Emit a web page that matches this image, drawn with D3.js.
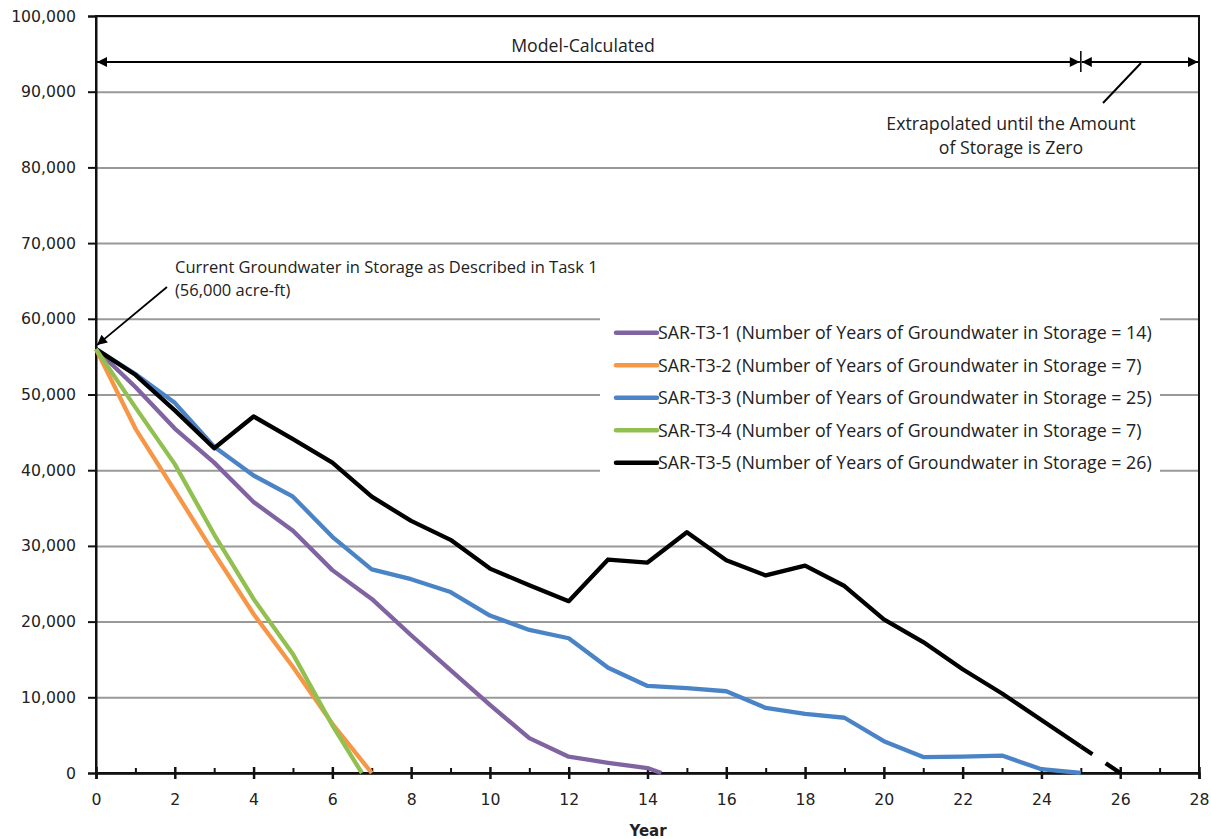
<!DOCTYPE html>
<html>
<head>
<meta charset="utf-8">
<script src="https://cdn.jsdelivr.net/npm/d3@7"></script>
<style>
  html, body { margin: 0; padding: 0; background: #fff; }
  svg { display: block; }
  .tick text { font-family: "DejaVu Sans", sans-serif; font-size: 15.7px; fill: #222; }
  .note { font-family: "Open Sans", Lato, sans-serif; font-size: 16.5px; fill: #222; }
  .note-lg { font-family: "Open Sans", Lato, sans-serif; font-size: 17.7px; fill: #222; }
  .legend-label { font-family: "Open Sans", Lato, sans-serif; font-size: 17.8px; fill: #222; }
</style>
</head>
<body>
<svg id="chart" width="1211" height="839"></svg>
<script>
// Groundwater in storage (acre-ft) by year for each scenario
const yearsT31 = [0,1,2,3,4,5,6,7,8,9,10,11,12,13,14,14.35];
const valuesT31 = [56000,51000,45500,41000,35800,32000,26800,23000,18200,13600,9000,4600,2150,1350,650,0];

const yearsT32 = [0,1,2,3,4,5,6,7];
const valuesT32 = [56000,45500,37300,29000,21000,14000,6500,0];

const yearsT33 = [0,1,2,3,4,5,6,7,8,9,10,11,12,13,14,15,16,17,18,19,20,21,22,23,24,25];
const valuesT33 = [56000,52700,48900,43100,39300,36500,31200,26900,25600,23900,20800,18900,17800,13900,11500,11200,10800,8600,7800,7300,4200,2100,2150,2300,500,0];

const yearsT34 = [0,1,2,3,4,5,6,6.75];
const valuesT34 = [56000,48300,40800,31500,23000,15700,6300,0];

const yearsT35 = [0,1,2,3,4,5,6,7,8,9,10,11,12,13,14,15,16,17,18,19,20,21,22,23,24,25];
const valuesT35 = [56000,52600,47900,42900,47100,44100,41000,36500,33300,30800,27000,24800,22700,28200,27800,31800,28100,26100,27400,24700,20300,17300,13700,10500,7000,3500];

// Extrapolation of SAR-T3-5 until storage reaches zero
const extrapYears = [25, 26];
const extrapValues = [3500, 0];

const seriesNames = [
  "SAR-T3-1 (Number of Years of Groundwater in Storage = 14)",
  "SAR-T3-2 (Number of Years of Groundwater in Storage = 7)",
  "SAR-T3-3 (Number of Years of Groundwater in Storage = 25)",
  "SAR-T3-4 (Number of Years of Groundwater in Storage = 7)",
  "SAR-T3-5 (Number of Years of Groundwater in Storage = 26)"
];
const seriesColors = ["#8064A2", "#F79646", "#4A84C6", "#92C050", "#000000"];

const yTicks = [0,10000,20000,30000,40000,50000,60000,70000,80000,90000,100000];
const xTicks = [0,2,4,6,8,10,12,14,16,18,20,22,24,26,28];
const xMinorTicks = [1,3,5,7,9,11,13,15,17,19,21,23,25,27];

const svg = d3.select("#chart");
const margin = { left: 96, top: 16, right: 12, bottom: 66 };
const W = 1211, H = 839;
const x = d3.scaleLinear().domain([0, 28]).range([margin.left, W - margin.right]);
const y = d3.scaleLinear().domain([0, 100000]).range([H - margin.bottom, margin.top]);

// horizontal gridlines
svg.append("g")
  .attr("transform", `translate(${margin.left},0)`)
  .call(d3.axisLeft(y).tickValues(yTicks).tickSize(-(x(28) - x(0))).tickFormat(""))
  .call(g => g.select(".domain").remove())
  .call(g => g.selectAll("line").attr("stroke", "#999").attr("stroke-width", 2));

// legend box (covers gridlines behind it)
const legX = 600, legY = 313;
svg.append("rect").attr("x", legX).attr("y", legY).attr("width", 560).attr("height", 168).attr("fill", "#fff");

// plot frame
svg.append("rect")
  .attr("x", x(0)).attr("y", y(100000))
  .attr("width", x(28) - x(0)).attr("height", y(0) - y(100000))
  .attr("fill", "none").attr("stroke", "#111").attr("stroke-width", 2);

// y axis
svg.append("g")
  .attr("transform", `translate(${margin.left},0)`)
  .call(d3.axisLeft(y).tickValues(yTicks).tickSize(8).tickPadding(12).tickFormat(d3.format(",")))
  .call(g => g.selectAll("line").attr("stroke", "#111").attr("stroke-width", 2))
  .call(g => g.select(".domain").attr("stroke", "#111").attr("stroke-width", 2));

// x axis (major ticks cross the axis line)
svg.append("g")
  .attr("transform", `translate(0,${y(0)})`)
  .call(d3.axisBottom(x).tickValues(xTicks).tickSize(6).tickPadding(15).tickFormat(d3.format("d")))
  .call(g => g.selectAll("line").attr("stroke", "#111").attr("stroke-width", 2.5))
  .call(g => g.select(".domain").attr("stroke", "#111").attr("stroke-width", 2.5));
svg.append("g")
  .attr("transform", `translate(0,${y(0)})`)
  .call(d3.axisTop(x).tickValues(xTicks).tickSize(6).tickFormat(""))
  .call(g => g.select(".domain").remove())
  .call(g => g.selectAll("line").attr("stroke", "#111").attr("stroke-width", 2.5));
svg.append("g")
  .attr("transform", `translate(0,${y(0)})`)
  .call(d3.axisTop(x).tickValues(xMinorTicks).tickSize(5).tickFormat(""))
  .call(g => g.select(".domain").remove())
  .call(g => g.selectAll("line").attr("stroke", "#111").attr("stroke-width", 2));

svg.append("text")
  .attr("x", 648).attr("y", 836)
  .attr("text-anchor", "middle")
  .attr("font-family", "'DejaVu Sans', sans-serif")
  .attr("font-weight", "bold").attr("font-size", 15).attr("fill", "#222")
  .text("Year");

// series lines
const line = d3.line().x(d => x(d[0])).y(d => y(d[1]));
const allSeries = [
  [yearsT31, valuesT31],
  [yearsT32, valuesT32],
  [yearsT33, valuesT33],
  [yearsT34, valuesT34],
  [yearsT35, valuesT35]
];
const drawOrder = [0, 2, 4, 1, 3];
drawOrder.forEach(i => {
  const [xs, vs] = allSeries[i];
  svg.append("path")
    .datum(xs.map((yr, k) => [yr, vs[k]]))
    .attr("d", line)
    .attr("fill", "none")
    .attr("stroke", seriesColors[i])
    .attr("stroke-width", 4.3)
    .attr("stroke-linejoin", "round");
});
svg.append("path")
  .datum(extrapYears.map((yr, k) => [yr, extrapValues[k]]))
  .attr("d", line)
  .attr("fill", "none")
  .attr("stroke", "#000")
  .attr("stroke-width", 4.3)
  .attr("stroke-dasharray", "14,16,18");

// legend entries
seriesNames.forEach((name, i) => {
  const ly = 332.7 + i * 32.5;
  svg.append("line")
    .attr("x1", 616).attr("x2", 657).attr("y1", ly).attr("y2", ly)
    .attr("stroke", seriesColors[i]).attr("stroke-width", 4.5).attr("stroke-linecap", "round");
  svg.append("text").attr("class", "legend-label")
    .attr("x", 658).attr("y", ly + 6.5)
    .text(name);
});

// arrowhead markers
const defs = svg.append("defs");
defs.append("marker")
  .attr("id", "arrowHeadLg")
  .attr("viewBox", "0 0 10 10").attr("refX", 10).attr("refY", 5)
  .attr("markerWidth", 14).attr("markerHeight", 10)
  .attr("markerUnits", "userSpaceOnUse")
  .attr("orient", "auto-start-reverse")
  .append("path").attr("d", "M0,0 L10,5 L0,10 Z").attr("fill", "#000");

// model-calculated span
const spanY = 62;
svg.append("line")
  .attr("x1", x(0) + 1).attr("x2", x(25) - 1).attr("y1", spanY).attr("y2", spanY)
  .attr("stroke", "#000").attr("stroke-width", 2)
  .attr("marker-start", "url(#arrowHeadLg)").attr("marker-end", "url(#arrowHeadLg)");
svg.append("line")
  .attr("x1", x(25) + 1).attr("x2", x(28) - 1).attr("y1", spanY).attr("y2", spanY)
  .attr("stroke", "#000").attr("stroke-width", 2)
  .attr("marker-start", "url(#arrowHeadLg)").attr("marker-end", "url(#arrowHeadLg)");
svg.append("line")
  .attr("x1", x(25)).attr("x2", x(25)).attr("y1", spanY - 11).attr("y2", spanY + 10)
  .attr("stroke", "#000").attr("stroke-width", 1.5);
svg.append("text").attr("class", "note-lg")
  .attr("x", 583).attr("y", 52).attr("text-anchor", "middle")
  .text("Model-Calculated");

// extrapolated callout
svg.append("line")
  .attr("x1", 1141).attr("y1", 63).attr("x2", 1103).attr("y2", 103)
  .attr("stroke", "#000").attr("stroke-width", 2);
svg.append("text").attr("class", "note-lg")
  .attr("x", 1011).attr("y", 130).attr("text-anchor", "middle")
  .text("Extrapolated until the Amount");
svg.append("text").attr("class", "note-lg")
  .attr("x", 1011).attr("y", 154).attr("text-anchor", "middle")
  .text("of Storage is Zero");

// current storage callout
svg.append("line")
  .attr("x1", 167).attr("y1", 287).attr("x2", x(0) + 1).attr("y2", y(56000) - 4)
  .attr("stroke", "#000").attr("stroke-width", 1.8)
  .attr("marker-end", "url(#arrowHeadLg)");
svg.append("text").attr("class", "note")
  .attr("x", 175).attr("y", 273)
  .text("Current Groundwater in Storage as Described in Task 1");
svg.append("text").attr("class", "note")
  .attr("x", 175).attr("y", 296)
  .text("(56,000 acre-ft)");
</script>
</body>
</html>
